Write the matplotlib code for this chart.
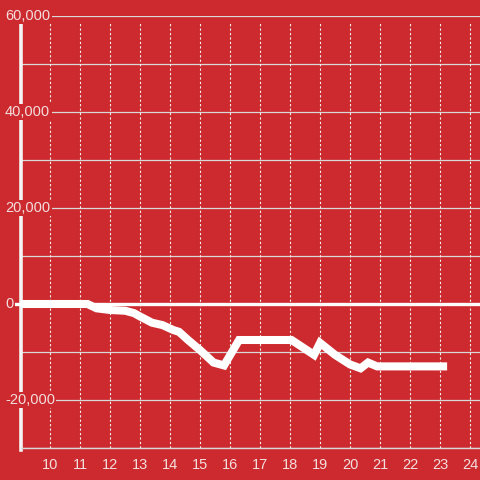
import matplotlib
matplotlib.use("Agg")
import matplotlib.pyplot as plt
import matplotlib.transforms as mtransforms

# heures (décimales) et valeurs
heures = [9.03, 11.25, 11.55, 12.0, 12.5, 12.8, 13.0, 13.4, 13.75, 14.1, 14.3,
          14.6, 15.0, 15.45, 15.8, 16.3, 18.05, 18.8, 19.0, 19.5, 20.0, 20.35,
          20.6, 20.9, 23.1]
valeurs = [0, 0, -900, -1250, -1400, -1900, -2600, -3900, -4400, -5400, -5800,
           -7500, -9600, -12200, -12800, -7500, -7500, -10600, -8100, -10600,
           -12600, -13400, -12200, -13000, -13000]

x_ticks = list(range(10, 25))
y_ticks_labels = [60000, 40000, 20000, 0, -20000]

fond = "#cc2a2e"
texte = "#f3dede"
plt.rcParams['font.family'] = ['Liberation Sans', 'DejaVu Sans']

fig = plt.figure(figsize=(4.8, 4.8), dpi=100, facecolor=fond)
ax = fig.add_axes([21 / 480, 32 / 480, 459 / 480, 432 / 480], facecolor=fond)

ax.set_xlim(9.033, 24.33)
ax.set_ylim(-30000, 60000)

# grille horizontale
for v in range(-30000, 60001, 10000):
    ax.axhline(v, color="#d8d8d8", lw=0.9, zorder=1)
# grille verticale pointillée
for h in x_ticks:
    ax.axvline(h, ymax=0.985, color="#f0f0f0", lw=0.8, ls=(0, (2, 2)), zorder=1)

ax.axhline(0, xmin=-0.01, color="white", lw=2.4, zorder=3, clip_on=False)
ax.plot(heures, valeurs, color="white", lw=5.8, solid_joinstyle="miter", zorder=4)

for s in ["top", "right", "left"]:
    ax.spines[s].set_visible(False)
ax.spines["bottom"].set_color("#d8d8d8")
ax.spines["bottom"].set_linewidth(1)
ax.axvline(9.033, ymin=-0.005, ymax=0.982, color="#f4f4f4", lw=2.6, zorder=2, clip_on=False)

ax.set_yticks([])
ax.set_xticks(x_ticks)
ax.set_xticklabels([str(h) for h in x_ticks], color=texte, fontsize=10.5)
ax.tick_params(axis="x", length=0, pad=7)

trans = mtransforms.blended_transform_factory(ax.transAxes, ax.transData)
for v in y_ticks_labels:
    ax.text(-16 / 459, v, f"{v:,}", transform=trans, ha="left", va="center",
            color=texte, fontsize=10.5, zorder=6, clip_on=False,
            bbox=dict(facecolor=fond, edgecolor="none", pad=1.0))

fig.savefig("out.png", dpi=100, facecolor=fond)
